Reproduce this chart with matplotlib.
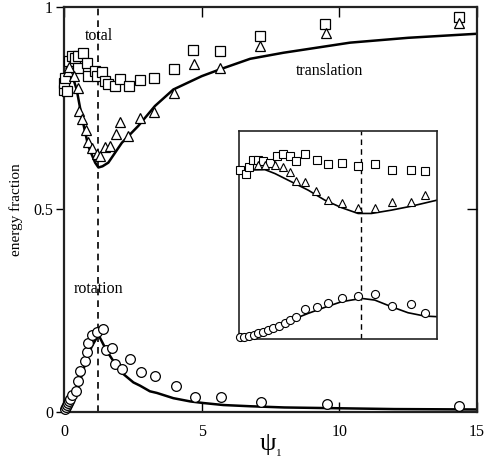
import matplotlib
matplotlib.use("Agg")
import matplotlib.pyplot as plt

plt.rcParams['font.family'] = ['Liberation Serif', 'DejaVu Serif']
plt.rcParams['mathtext.fontset'] = 'stix'

# ---- main panel data ----
total_x = [0.01, 0.01, 0.04, 0.10, 0.18, 0.28, 0.40, 0.52, 0.52, 0.70, 0.82, 0.88,
           1.13, 1.19, 1.37, 1.49, 1.61, 1.85, 2.03, 2.37, 2.76, 3.27, 4.00, 4.70,
           5.67, 7.12, 9.48, 14.36]
total_y = [0.797, 0.814, 0.826, 0.793, 0.867, 0.879, 0.875, 0.881, 0.851, 0.888, 0.863, 0.830,
           0.843, 0.830, 0.840, 0.818, 0.810, 0.805, 0.822, 0.805, 0.820, 0.826, 0.848, 0.896,
           0.892, 0.929, 0.958, 0.977]

trans_x = [0.13, 0.18, 0.37, 0.50, 0.55, 0.67, 0.79, 0.88, 1.03, 1.19, 1.31, 1.49,
           1.67, 1.88, 2.04, 2.34, 2.76, 3.26, 4.00, 4.72, 5.67, 7.12, 9.52, 14.36]
trans_y = [0.843, 0.853, 0.830, 0.800, 0.744, 0.723, 0.698, 0.666, 0.653, 0.637, 0.632, 0.654,
           0.657, 0.688, 0.716, 0.681, 0.726, 0.742, 0.789, 0.859, 0.851, 0.904, 0.937, 0.962]

rot_x = [0.03, 0.06, 0.10, 0.14, 0.18, 0.22, 0.30, 0.44, 0.50, 0.58, 0.76, 0.82, 0.88,
         1.03, 1.19, 1.41, 1.53, 1.73, 1.85, 2.12, 2.40, 2.79, 3.30, 4.05, 4.76, 5.69,
         7.17, 9.57, 14.36]
rot_y = [0.005, 0.010, 0.015, 0.020, 0.025, 0.030, 0.040, 0.050, 0.076, 0.100, 0.125, 0.147, 0.170,
         0.190, 0.196, 0.203, 0.153, 0.158, 0.118, 0.105, 0.129, 0.098, 0.088, 0.062, 0.035, 0.036,
         0.024, 0.019, 0.014]

trans_curve_x = [0.10, 0.20, 0.34, 0.46, 0.64, 0.88, 1.13, 1.25, 1.40, 1.61, 2.10, 2.70,
                 3.30, 3.97, 5.00, 5.67, 6.76, 7.97, 10.39, 12.50, 15.00]
trans_curve_y = [0.850, 0.843, 0.823, 0.797, 0.731, 0.657, 0.616, 0.604, 0.607, 0.616, 0.665, 0.707,
                 0.756, 0.797, 0.830, 0.847, 0.873, 0.888, 0.913, 0.925, 0.935]

rot_curve_x = [0.00, 0.20, 0.40, 0.60, 0.80, 1.00, 1.25, 1.55, 1.91, 2.15, 2.52, 2.76,
               3.12, 3.37, 3.97, 4.58, 5.06, 5.79, 6.76, 8.00, 10.00, 12.00, 15.00]
rot_curve_y = [0.000, 0.015, 0.040, 0.080, 0.125, 0.160, 0.190, 0.150, 0.113, 0.093, 0.072, 0.064,
               0.050, 0.046, 0.033, 0.025, 0.021, 0.016, 0.013, 0.010, 0.008, 0.006, 0.005]

psi_critical = 1.25

# ---- inset data ----
in_total_x = [0.010, 0.068, 0.102, 0.147, 0.198, 0.249, 0.317, 0.386, 0.454, 0.522, 0.580,
              0.676, 0.795, 0.914, 1.051, 1.215, 1.399, 1.569, 1.761, 1.904]
in_total_y = [0.811, 0.795, 0.827, 0.859, 0.862, 0.856, 0.846, 0.878, 0.888, 0.878, 0.856,
              0.891, 0.859, 0.840, 0.846, 0.830, 0.843, 0.811, 0.814, 0.808]

in_trans_x = [0.198, 0.266, 0.369, 0.454, 0.522, 0.580, 0.676, 0.785, 0.914, 1.051, 1.215,
              1.399, 1.569, 1.761, 1.904]
in_trans_y = [0.835, 0.835, 0.835, 0.827, 0.803, 0.760, 0.755, 0.712, 0.667, 0.654, 0.627,
              0.631, 0.659, 0.659, 0.691]

in_rot_x = [0.010, 0.055, 0.102, 0.150, 0.198, 0.249, 0.300, 0.351, 0.409, 0.471, 0.522,
            0.583, 0.676, 0.795, 0.914, 1.051, 1.215, 1.399, 1.569, 1.761, 1.904]
in_rot_y = [0.006, 0.010, 0.013, 0.018, 0.026, 0.034, 0.042, 0.050, 0.061, 0.074, 0.090,
            0.103, 0.143, 0.151, 0.173, 0.194, 0.207, 0.213, 0.159, 0.167, 0.125]

in_trans_curve_x = [0.010, 0.266, 0.369, 0.539, 0.710, 0.880, 1.051, 1.221, 1.358, 1.563, 1.767, 2.030]
in_trans_curve_y = [0.811, 0.814, 0.795, 0.755, 0.715, 0.667, 0.631, 0.603, 0.603, 0.619, 0.638, 0.667]

in_rot_curve_x = [0.010, 0.198, 0.369, 0.539, 0.710, 0.880, 1.051, 1.256, 1.392, 1.563, 1.733, 1.904, 2.030]
in_rot_curve_y = [0.002, 0.026, 0.058, 0.090, 0.122, 0.151, 0.178, 0.194, 0.186, 0.154, 0.125, 0.109, 0.106]

x_ticks = [0, 5, 10, 15]
x_ticklabels = ['0', '5', '10', '15']
y_ticks = [0, 0.5, 1]
y_ticklabels = ['0', '0.5', '1']

W, H = 485, 462
fig = plt.figure(figsize=(W / 100, H / 100), dpi=100)
ax = fig.add_axes([64 / W, 1 - 411.5 / H, 413 / W, 404 / H])

mk = dict(mfc='white', mec='black', mew=0.9, ls='none', clip_on=False, zorder=3)
ax.plot(trans_curve_x, trans_curve_y, color='black', lw=1.8, zorder=2)
ax.plot(rot_curve_x, rot_curve_y, color='black', lw=1.8, zorder=2)
ax.plot(total_x, total_y, marker='s', ms=6.6, **mk)
ax.plot(trans_x, trans_y, marker='^', ms=7.6, **mk)
ax.plot(rot_x, rot_y, marker='o', ms=7.0, **mk)
ax.axvline(psi_critical, color='black', lw=1.2, ls=(0, (4, 3)), zorder=1)

ax.set_xlim(0, 15)
ax.set_ylim(0, 1)
ax.set_xticks(x_ticks)
ax.set_xticklabels(x_ticklabels)
ax.set_yticks(y_ticks)
ax.set_yticklabels(y_ticklabels)
ax.tick_params(axis='x', direction='in', top=True, length=7, width=1.0, labelsize=11.5, pad=9)
ax.tick_params(axis='y', direction='out', length=6, width=1.0, labelsize=11.5, pad=2)
for s in ax.spines.values():
    s.set_linewidth(1.6)
    s.set_color('#222222')
# inward right tick at 0.5
axr = ax.twinx()
axr.set_ylim(0, 1)
axr.set_yticks([0.5])
axr.set_yticklabels([])
axr.tick_params(axis='y', direction='in', length=7, width=1.0)
for s in axr.spines.values():
    s.set_visible(False)

ax.text(1.26, 0.929, 'total', ha='center', va='center', fontsize=11.5)
ax.text(9.63, 0.842, 'translation', ha='center', va='center', fontsize=11.5)
ax.text(1.26, 0.302, 'rotation', ha='center', va='center', fontsize=11.5)
fig.text(16 / W, 1 - 210 / H, 'energy fraction', rotation=90, ha='center', va='center', fontsize=11)
fig.text(268 / W, 1 - 444 / H, 'ψ', ha='center', va='center', fontsize=19)
fig.text(279 / W, 1 - 454 / H, '1', ha='center', va='center', fontsize=8)

# ---- inset ----
ins = fig.add_axes([239 / W, 1 - 338.7 / H, 198 / W, 207.7 / H])
mk2 = dict(mfc='white', mec='black', mew=0.8, ls='none', clip_on=False, zorder=3)
ins.plot(in_trans_curve_x, in_trans_curve_y, color='black', lw=1.2, zorder=2)
ins.plot(in_rot_curve_x, in_rot_curve_y, color='black', lw=1.2, zorder=2)
ins.plot(in_total_x, in_total_y, marker='s', ms=5.3, **mk2)
ins.plot(in_trans_x, in_trans_y, marker='^', ms=6.0, **mk2)
ins.plot(in_rot_x, in_rot_y, marker='o', ms=5.8, **mk2)
ins.axvline(psi_critical, color='black', lw=1.0, ls=(0, (4, 3)), zorder=1)
ins.set_xlim(0, 2.03)
ins.set_ylim(0, 1)
ins.set_xticks([])
ins.set_yticks([])
for s in ins.spines.values():
    s.set_linewidth(1.2)
    s.set_color('#222222')

fig.savefig('out.png', dpi=100)
